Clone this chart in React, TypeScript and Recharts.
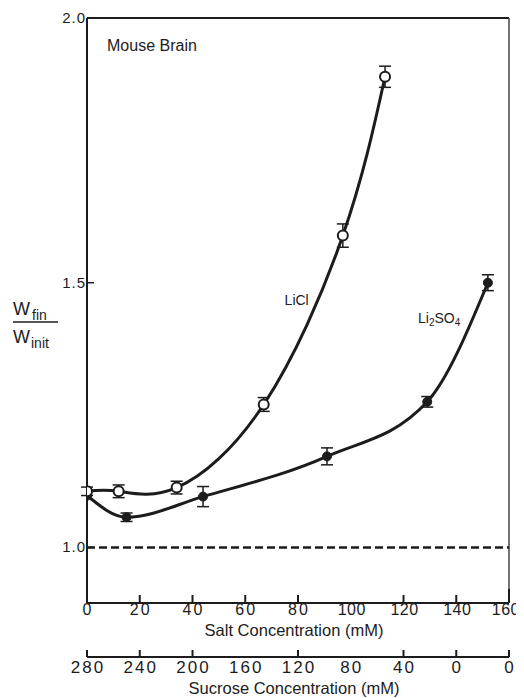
import React from 'react';
import { LineChart, Line, XAxis, YAxis, ReferenceLine, ReferenceDot, ErrorBar, Label } from 'recharts';

// LiCl (open circles)
const liclSalt = [0, 12, 34, 67, 97, 113];
const liclRatio = [1.106, 1.106, 1.113, 1.27, 1.589, 1.889];
const liclErr = [0.008, 0.012, 0.012, 0.013, 0.022, 0.02];

// Li2SO4 (filled circles)
const li2so4Salt = [0, 15, 44, 91, 129, 152];
const li2so4Ratio = [1.098, 1.057, 1.096, 1.172, 1.275, 1.5];
const li2so4Err = [0, 0.008, 0.019, 0.016, 0.01, 0.015];

// axes
const saltTicks = [0, 20, 40, 60, 80, 100, 120, 140, 160];
const saltMarked = [20, 40, 60, 80, 120, 140, 160];
const sucroseLabels = ['280', '240', '200', '160', '120', '80', '40', '0', '0'];
const sucroseMarked = [0, 20, 40, 80, 120, 140, 160];
const yTicks = [1.0, 1.5, 2.0];

const licl = liclSalt.map((s, i) => ({ salt: s, v: liclRatio[i], e: liclErr[i] }));
const li2so4 = li2so4Salt.map((s, i) => ({ salt: s, v: li2so4Ratio[i], e: li2so4Err[i] }));

const INK = '#1c1c1c';
const FONT = '"Liberation Sans", Arial, Helvetica, sans-serif';

const SaltTick = (props: any) => {
  const { x, y, payload, index } = props;
  const v = payload.value;
  const label = String(v);
  const last = index === saltTicks.length - 1;
  const wide = label.length >= 3;
  return (
    <g>
      {saltMarked.includes(v) && (
        <line x1={x} x2={x} y1={y - (v === 160 ? 14 : 8)} y2={y} stroke={INK} strokeWidth={2} />
      )}
      <text
        x={last ? x + 11 : x + 1}
        y={y + 12}
        textAnchor={last ? 'end' : 'middle'}
        fontSize={16}
        letterSpacing={wide ? 0.5 : 2}
        fill={INK}
        fontFamily={FONT}
      >
        {label}
      </text>
    </g>
  );
};

const SucroseTick = (props: any) => {
  const { x, y, payload, index } = props;
  const v = payload.value;
  return (
    <g>
      {sucroseMarked.includes(v) && (
        <line x1={x} x2={x} y1={y - 7} y2={y} stroke={INK} strokeWidth={2} />
      )}
      <text x={x + 1} y={y + 16} textAnchor="middle" fontSize={17} letterSpacing={2} fill={INK} fontFamily={FONT}>
        {sucroseLabels[index] ?? ''}
      </text>
    </g>
  );
};

const YTick = (props: any) => {
  const { x, y, payload } = props;
  const v = payload.value as number;
  return (
    <g>
      {v < 2 && <line x1={x} x2={x + 7} y1={y} y2={y} stroke={INK} strokeWidth={1.5} />}
      <text x={x - 1} y={y + 5} textAnchor="end" fontSize={15} letterSpacing={1} fill={INK} fontFamily={FONT}>
        {v.toFixed(1)}
      </text>
    </g>
  );
};

const YTitle = () => (
  <g fill={INK} fontFamily={FONT}>
    <text x={5} y={307} fontSize={18}>
      W<tspan fontSize={14} dx={2} dy={5}>fin</tspan>
    </text>
    <line x1={5} x2={50} y1={314} y2={314} stroke={INK} strokeWidth={1.5} />
    <text x={5} y={335} fontSize={18}>
      W<tspan fontSize={14} dx={1} dy={5}>init</tspan>
    </text>
  </g>
);

const AxisTitle = (text: string, dy: number) => (props: any) => {
  const vb = props.viewBox || {};
  return (
    <text x={vb.x + vb.width / 2 - 4} y={vb.y + dy} textAnchor="middle" fontSize={16.5} fill={INK} fontFamily={FONT}>
      {text}
    </text>
  );
};

const TextAt = (text: React.ReactNode, anchor: 'start' | 'middle', size: number) => (props: any) => {
  const vb = props.viewBox || {};
  return (
    <text x={vb.x} y={vb.y + size * 0.36} textAnchor={anchor} fontSize={size} fill={INK} fontFamily={FONT}>
      {text}
    </text>
  );
};

export default function App() {
  return (
    <LineChart width={516} height={692} margin={{ top: 10, right: 15, bottom: 0, left: 0 }}>
      <XAxis
        xAxisId="salt"
        dataKey="salt"
        type="number"
        domain={[0, 160]}
        ticks={saltTicks}
        allowDataOverflow
        height={54}
        tickSize={0}
        tickMargin={0}
        tickLine={false}
        axisLine={{ stroke: INK, strokeWidth: 2 }}
        tick={<SaltTick />}
        interval={0}
      >
        <Label content={AxisTitle('Salt Concentration (mM)', 33)} />
      </XAxis>
      <XAxis
        xAxisId="suc"
        dataKey="salt"
        type="number"
        domain={[0, 160]}
        ticks={saltTicks}
        allowDataOverflow
        height={43}
        tickSize={0}
        tickMargin={0}
        tickLine={false}
        axisLine={{ stroke: INK, strokeWidth: 2 }}
        tick={<SucroseTick />}
        interval={0}
      >
        <Label content={AxisTitle('Sucrose Concentration (mM)', 37)} />
      </XAxis>
      <YAxis
        type="number"
        domain={[0.895, 2.0]}
        ticks={yTicks}
        allowDataOverflow
        width={79}
        tickSize={0}
        tickMargin={0}
        tickLine={false}
        axisLine={{ stroke: INK, strokeWidth: 2 }}
        tick={<YTick />}
        interval={0}
      >
        <Label content={YTitle} />
      </YAxis>
      <ReferenceLine xAxisId="salt" y={2.0} stroke={INK} strokeWidth={2} />
      <ReferenceLine xAxisId="salt" x={160} stroke="#444" strokeWidth={1.5} />
      <ReferenceLine xAxisId="salt" y={1.0} stroke={INK} strokeWidth={2.5} strokeDasharray="8 4" />
      <Line
        xAxisId="salt"
        data={li2so4}
        dataKey="v"
        type="monotone"
        stroke={INK}
        strokeWidth={3}
        dot={{ r: 4.5, fill: INK, stroke: INK, strokeWidth: 1 }}
        isAnimationActive={false}
      >
        <ErrorBar dataKey="e" direction="y" width={6} stroke={INK} strokeWidth={1.5} />
      </Line>
      <Line
        xAxisId="salt"
        data={licl}
        dataKey="v"
        type="natural"
        stroke={INK}
        strokeWidth={3}
        dot={{ r: 5, fill: '#fff', stroke: INK, strokeWidth: 2 }}
        isAnimationActive={false}
      >
        <ErrorBar dataKey="e" direction="y" width={6} stroke={INK} strokeWidth={1.5} />
      </Line>
      <ReferenceDot xAxisId="salt" x={7.6} y={1.948} r={0} stroke="none" fill="none" label={{ content: TextAt('Mouse Brain', 'start', 16) }} />
      <ReferenceDot xAxisId="salt" x={79.5} y={1.468} r={0} stroke="none" fill="none" label={{ content: TextAt('LiCl', 'middle', 14) }} />
      <ReferenceDot
        xAxisId="salt"
        x={133.5}
        y={1.434}
        r={0}
        stroke="none"
        fill="none"
        label={{
          content: TextAt(
            <>
              Li<tspan fontSize={10} dy={3}>2</tspan>
              <tspan dy={-3}>SO</tspan>
              <tspan fontSize={10} dy={3}>4</tspan>
            </>,
            'middle',
            14
          ),
        }}
      />
    </LineChart>
  );
}
